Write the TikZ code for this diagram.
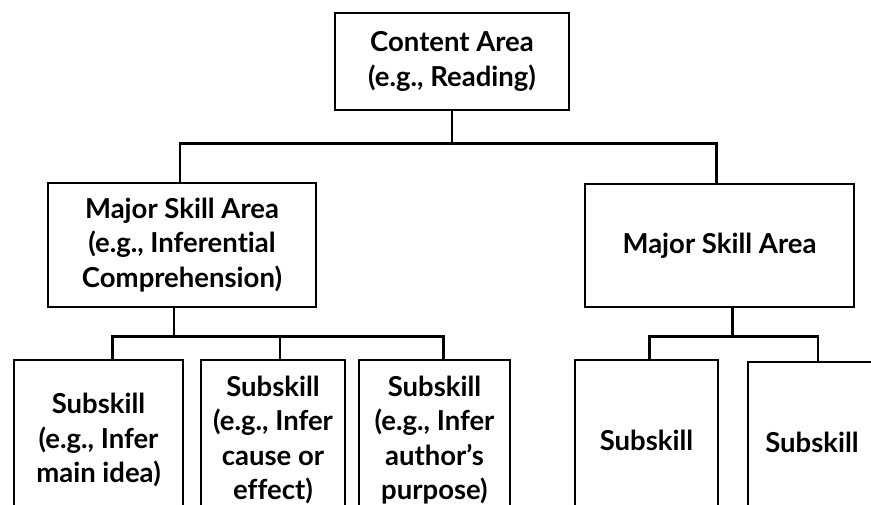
\documentclass[tikz,border=0pt]{standalone}
\usepackage{fontspec}
\setmainfont{Lato}[RawFeature={-liga}]
\usetikzlibrary{positioning,calc}
\tikzset{
  box/.style={draw=black, line width=2.8pt, fill=white, align=center, inner sep=0pt,
    font=\fontsize{27.5}{34.5}\selectfont\bfseries},
  conn/.style={draw=black, line width=2.8pt}
}
\begin{document}
\begin{tikzpicture}[x=1pt,y=-1pt]
\useasboundingbox (0,0) rectangle (871,504);
\clip (0,0) rectangle (871,504);
\fill[white] (0,0) rectangle (871,504);
\node[box, minimum width=234pt, minimum height=97pt] (content) at (452,61.5) {Content Area\\(e.g., Reading)};
\node[box, minimum width=268pt, minimum height=124pt] (lmaj) at (182,245) {Major Skill Area\\(e.g., Inferential\\Comprehension)};
\node[box, minimum width=269pt, minimum height=123pt] (rmaj) at (719.5,245.5) {Major Skill Area};
\node[box, minimum width=169pt, minimum height=160pt] (s1) at (98.5,440) {Subskill\\(e.g., Infer\\main idea)};
\node[box, minimum width=144pt, minimum height=160pt] (s2) at (273,440) {Subskill\\(e.g., Infer\\cause or\\effect)};
\node[box, minimum width=151pt, minimum height=160pt] (s3) at (434.5,440) {Subskill\\(e.g., Infer\\author's\\purpose)};
\node[box, minimum width=143pt, minimum height=160pt] (s4) at (646.5,440) {Subskill};
\node[box, minimum width=128pt, minimum height=160pt] (s5) at (812,442) {Subskill};
% connectors
\coordinate (j0) at ($(content.south)+(0,32)$);
\draw[conn] (content.south) -- (j0);
\draw[conn] ([xshift=-2pt]lmaj.north) |- (j0) -| ([xshift=-3pt]rmaj.north);
\coordinate (j1) at ($([xshift=-8pt]lmaj.south)+(0,28)$);
\draw[conn] ([xshift=-8pt]lmaj.south) -- (j1);
\draw[conn] ([xshift=14pt]s1.north) |- ([xshift=9pt]s3.north |- j1) -- ([xshift=9pt]s3.north);
\draw[conn] ([xshift=7pt]s2.north) -- ([xshift=7pt]s2.north |- j1);
\coordinate (j2) at ($([xshift=13pt]rmaj.south)+(0,28)$);
\draw[conn] ([xshift=13pt]rmaj.south) -- (j2);
\draw[conn] ([xshift=3pt]s4.north) |- ([xshift=6pt]s5.north |- j2) -- ([xshift=6pt]s5.north);
\end{tikzpicture}
\end{document}
